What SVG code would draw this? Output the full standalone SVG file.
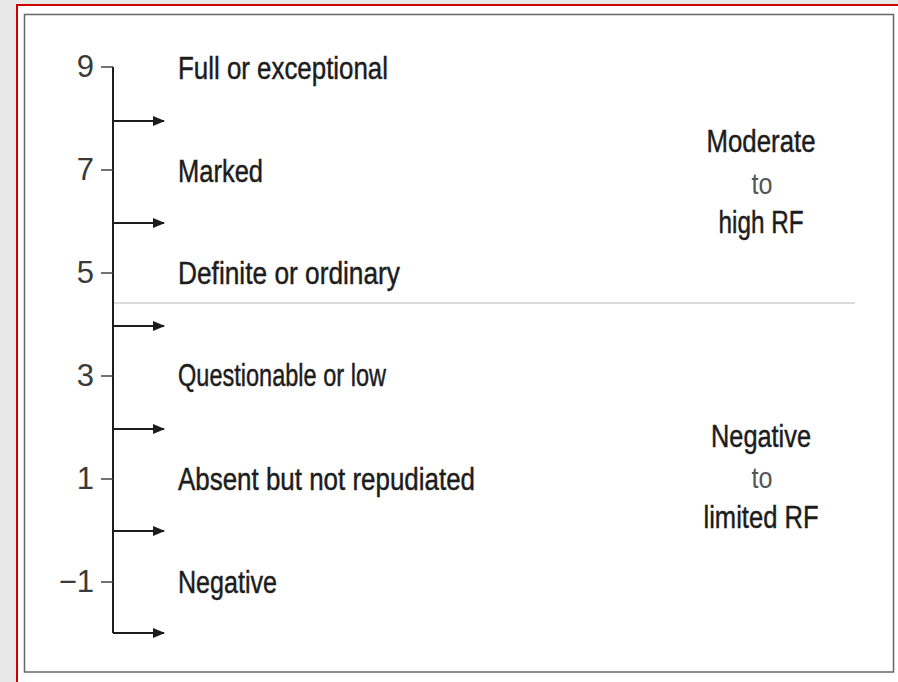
<svg xmlns="http://www.w3.org/2000/svg" width="898" height="682" viewBox="0 0 898 682">
  <style>
    .lbl { font-family: "Liberation Sans", Arial, sans-serif; font-size: 31px; fill: #1c1c1c; stroke: #1c1c1c; stroke-width: 0.45px; }
    .num { font-family: "Liberation Sans", Arial, sans-serif; font-size: 31px; fill: #3a3a3a; text-anchor: end; }
    .thin { font-family: "Liberation Sans", Arial, sans-serif; font-size: 29px; fill: #555; text-anchor: middle; }
    .mid { text-anchor: middle; }
    .axis { stroke: #1c1c1c; stroke-width: 2; fill: none; }
    .tick { stroke: #444; stroke-width: 1.5; }
    .arrow { stroke: #1c1c1c; stroke-width: 2; fill: none; marker-end: url(#ah); }
  </style>
  <defs>
    <marker id="ah" markerWidth="12" markerHeight="10" refX="11" refY="5" orient="auto" markerUnits="userSpaceOnUse">
      <path d="M0,0 L12,5 L0,10 Z" fill="#1c1c1c"/>
    </marker>
  </defs>

  <rect x="0" y="0" width="898" height="682" fill="#e8e8e8"/>
  <rect x="17" y="5" width="900" height="700" fill="#ffffff" stroke="#cc0000" stroke-width="2"/>
  <rect x="24.5" y="14.5" width="869" height="657.5" fill="#ffffff" stroke="#666" stroke-width="1.5"/>

  <g id="separator">
    <line x1="113" y1="303" x2="855" y2="303" stroke="#cfcfcf" stroke-width="1.5"/>
  </g>

  <g id="axis">
    <line class="axis" x1="113" y1="67" x2="113" y2="633"/>
    <line class="tick" x1="101" y1="67" x2="113" y2="67"/>
    <line class="tick" x1="101" y1="170" x2="113" y2="170"/>
    <line class="tick" x1="101" y1="273" x2="113" y2="273"/>
    <line class="tick" x1="101" y1="376" x2="113" y2="376"/>
    <line class="tick" x1="101" y1="479" x2="113" y2="479"/>
    <line class="tick" x1="101" y1="582" x2="113" y2="582"/>
    <text class="num" x="94" y="77">9</text>
    <text class="num" x="94" y="180">7</text>
    <text class="num" x="94" y="283">5</text>
    <text class="num" x="94" y="386">3</text>
    <text class="num" x="94" y="489">1</text>
    <text class="num" x="94" y="592">−1</text>
  </g>

  <g id="connectors">
    <line class="arrow" x1="113" y1="121" x2="164" y2="121"/>
    <line class="arrow" x1="113" y1="223" x2="164" y2="223"/>
    <line class="arrow" x1="113" y1="326" x2="164" y2="326"/>
    <line class="arrow" x1="113" y1="429" x2="164" y2="429"/>
    <line class="arrow" x1="113" y1="531" x2="164" y2="531"/>
    <line class="arrow" x1="113" y1="633" x2="164" y2="633"/>
  </g>

  <g id="level-9"><text class="lbl" x="178" y="79" textLength="210" lengthAdjust="spacingAndGlyphs">Full or exceptional</text></g>
  <g id="level-7"><text class="lbl" x="178" y="182" textLength="85" lengthAdjust="spacingAndGlyphs">Marked</text></g>
  <g id="level-5"><text class="lbl" x="178" y="284" textLength="222" lengthAdjust="spacingAndGlyphs">Definite or ordinary</text></g>
  <g id="level-3"><text class="lbl" x="178" y="386" textLength="208" lengthAdjust="spacingAndGlyphs">Questionable or low</text></g>
  <g id="level-1"><text class="lbl" x="178" y="490" textLength="297" lengthAdjust="spacingAndGlyphs">Absent but not repudiated</text></g>
  <g id="level-neg1"><text class="lbl" x="178" y="593" textLength="99" lengthAdjust="spacingAndGlyphs">Negative</text></g>

  <g id="group-high">
    <text class="lbl mid" x="761" y="152" textLength="109" lengthAdjust="spacingAndGlyphs">Moderate</text>
    <text class="thin" x="762" y="194" textLength="21" lengthAdjust="spacingAndGlyphs">to</text>
    <text class="lbl mid" x="761" y="233" textLength="85" lengthAdjust="spacingAndGlyphs">high RF</text>
  </g>

  <g id="group-low">
    <text class="lbl mid" x="761" y="447" textLength="100" lengthAdjust="spacingAndGlyphs">Negative</text>
    <text class="thin" x="762" y="488" textLength="21" lengthAdjust="spacingAndGlyphs">to</text>
    <text class="lbl mid" x="761" y="528" textLength="115" lengthAdjust="spacingAndGlyphs">limited RF</text>
  </g>
</svg>
